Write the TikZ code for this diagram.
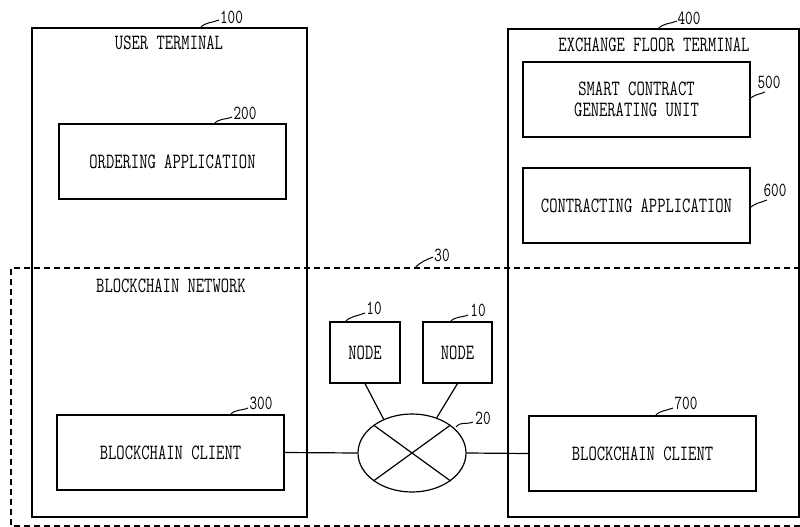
\documentclass[tikz,border=0pt]{standalone}
\usepackage{graphicx}
\usetikzlibrary{shapes.geometric}
\newcommand\sqz[1]{\scalebox{0.74}[1]{#1}}
\tikzset{
  box/.style={draw, rectangle, line width=1.2pt, inner sep=0pt},
  lbl/.style={inner sep=0pt, font=\ttfamily\fontsize{21.8}{21}\selectfont},
  num/.style={inner sep=0pt, font=\ttfamily\fontsize{20}{20}\selectfont},
  lead/.style={line width=1pt},
  link/.style={line width=1.2pt},
  net/.style={line width=1.2pt, dash pattern=on 6pt off 4pt},
}
\begin{document}
\begin{tikzpicture}[x=1pt,y=1pt]
\useasboundingbox (0,0) rectangle (800,-527);
% terminals
\node[box, minimum width=275pt, minimum height=489pt] (b100) at (169.5,-272.5) {};
\node[box, minimum width=291pt, minimum height=488pt] (b400) at (653.5,-273) {};
\node[lbl] (t100) at (169,-43) {\sqz{USER TERMINAL}};
\node[lbl] (t400) at (654,-45) {\sqz{EXCHANGE FLOOR TERMINAL}};
% inner boxes
\node[box, lbl, minimum width=227pt, minimum height=75pt] (b200) at (172.5,-161.5) {\sqz{ORDERING APPLICATION}};
\node[box, lbl, align=center, minimum width=227pt, minimum height=75pt] (b500) at (636.5,-99.5) {\sqz{SMART CONTRACT}\\\sqz{GENERATING UNIT}};
\node[box, lbl, minimum width=227pt, minimum height=75pt] (b600) at (636.5,-205.5) {\sqz{CONTRACTING APPLICATION}};
\node[box, lbl, minimum width=227pt, minimum height=75pt] (b300) at (170.5,-452.5) {\sqz{BLOCKCHAIN CLIENT}};
\node[box, lbl, minimum width=227pt, minimum height=75pt] (b700) at (642.5,-453.5) {\sqz{BLOCKCHAIN CLIENT}};
% network
\coordinate (nw1) at (800,-268);
\coordinate (nw2) at (11,-268);
\coordinate (nw3) at (11,-526);
\coordinate (nw4) at (800,-526);
\draw[net] (nw1) -- (nw2) -- (nw3) -- (nw4);
\node[lbl] (t30) at (171,-286) {\sqz{BLOCKCHAIN NETWORK}};
\node[box, lbl, minimum width=70pt, minimum height=61pt] (n1) at (365,-352.5) {\sqz{NODE}};
\node[box, lbl, minimum width=69pt, minimum height=61pt] (n2) at (457.5,-352.5) {\sqz{NODE}};
\node[draw, ellipse, line width=1.2pt, inner sep=0pt, minimum width=108pt, minimum height=78pt] (e) at (412,-453) {};
\draw[link] (e.north west) -- (e.south east);
\draw[link] (e.south west) -- (e.north east);
\draw[link] (n1.south) -- (e.130);
\draw[link] (n2.south) -- (e.55);
\draw[link] (b300.east) -- (e.west);
\draw[link] (e.east) -- (b700.west);
% reference numerals
\node[num] (l100) at (231.5,-17) {\sqz{100}};
\node[num] (l200) at (245,-113) {\sqz{200}};
\node[num] (l400) at (689,-18) {\sqz{400}};
\node[num] (l500) at (769,-82) {\sqz{500}};
\node[num] (l600) at (775,-190) {\sqz{600}};
\node[num] (l300) at (261,-403) {\sqz{300}};
\node[num] (l700) at (686,-403) {\sqz{700}};
\node[num] (l10a) at (374,-308) {\sqz{10}};
\node[num] (l10b) at (478,-310) {\sqz{10}};
\node[num] (l20) at (483,-418) {\sqz{20}};
\node[num] (l30) at (442,-255) {\sqz{30}};
\coordinate (s100) at (200,-28);   \coordinate (e100) at (219,-20);
\coordinate (s200) at (214,-124);  \coordinate (e200) at (232,-117);
\coordinate (s400) at (658,-29);   \coordinate (e400) at (677,-21);
\coordinate (s500) at (749,-100);  \coordinate (e500) at (765,-92);
\coordinate (s600) at (749,-209);  \coordinate (e600) at (767,-200);
\coordinate (s300) at (230,-415);  \coordinate (e300) at (248,-408);
\coordinate (s700) at (655,-416);  \coordinate (e700) at (673,-408);
\coordinate (s10a) at (345,-322);  \coordinate (e10a) at (365,-313);
\coordinate (s10b) at (450,-322);  \coordinate (e10b) at (468,-315);
\coordinate (s20) at (456,-427);   \coordinate (e20) at (473,-422);
\coordinate (s30) at (415,-268);   \coordinate (e30) at (433,-257);
\foreach \k in {100,200,400,500,600,300,700,10a,10b,20,30}
  \draw[lead] (s\k) .. controls +(5,6) and +(-7,-3) .. (e\k);
\end{tikzpicture}
\end{document}
